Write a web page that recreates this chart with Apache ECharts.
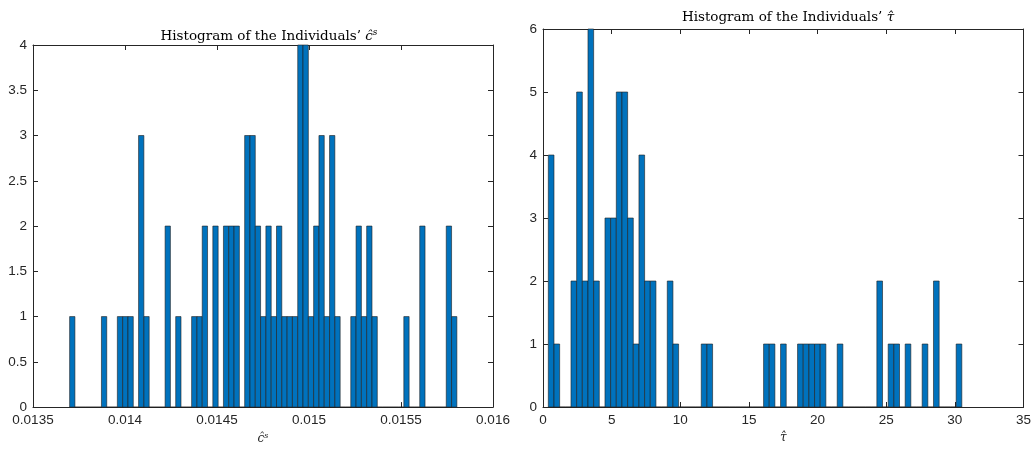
<!DOCTYPE html>
<html>
<head>
<meta charset="utf-8">
<script src="https://cdn.jsdelivr.net/npm/echarts@6/dist/echarts.min.js"></script>
<style>
  html, body { margin: 0; padding: 0; background: #fff; }
  #chart { width: 1034px; height: 450px; }
</style>
</head>
<body>
<div id="chart"></div>
<script>
  // bin layout of the two histograms (73 bins each)
  var cBinStart = 0.013699
  var cBinWidth = 0.00002883
  var tauBinStart = 0.388
  var tauBinWidth = 0.4126

  // counts per bin, left: c^s
  var cCounts = [
    1, 0, 0, 0, 0, 0, 1, 0, 0, 1,
    1, 1, 0, 3, 1, 0, 0, 0, 2, 0,
    1, 0, 0, 1, 1, 2, 0, 2, 0, 2,
    2, 2, 0, 3, 3, 2, 1, 2, 1, 2,
    1, 1, 1, 4, 4, 1, 2, 3, 1, 3,
    1, 0, 0, 1, 2, 1, 2, 1, 0, 0,
    0, 0, 0, 1, 0, 0, 2, 0, 0, 0,
    0, 2, 1
  ]
  // counts per bin, right: tau
  var tauCounts = [
    4, 1, 0, 0, 2, 5, 2, 6, 2, 0,
    3, 3, 5, 5, 3, 1, 4, 2, 2, 0,
    0, 2, 1, 0, 0, 0, 0, 1, 1, 0,
    0, 0, 0, 0, 0, 0, 0, 0, 1, 1,
    0, 1, 0, 0, 1, 1, 1, 1, 1, 0,
    0, 1, 0, 0, 0, 0, 0, 0, 2, 0,
    1, 1, 0, 1, 0, 0, 1, 0, 2, 0,
    0, 0, 1
  ]

  var cTicks = [0.0135, 0.014, 0.0145, 0.015, 0.0155, 0.016]
  var tauTicks = [0, 5, 10, 15, 20, 25, 30, 35]

  function toBins(start, width, counts) {
    var out = []
    for (var i = 0; i < counts.length; i++) {
      out.push([start + i * width, start + (i + 1) * width, counts[i]])
    }
    return out
  }

  function renderBin(params, api) {
    var p0 = api.coord([api.value(0), api.value(2)])
    var p1 = api.coord([api.value(1), 0])
    return {
      type: 'rect',
      shape: { x: p0[0], y: p0[1], width: p1[0] - p0[0], height: p1[1] - p0[1] },
      style: { fill: '#0072BD', stroke: '#1f1f1f', lineWidth: 0.6 }
    }
  }

  var axisColor = '#262626'
  var serif = 'DejaVu Serif'
  var labelFont = { color: axisColor, fontSize: 13.5, fontFamily: 'Liberation Sans' }

  function xAx(grid, ticks, pos, showLabel, name) {
    return {
      gridIndex: grid, type: 'value', position: pos,
      min: ticks[0], max: ticks[ticks.length - 1], interval: ticks[1] - ticks[0],
      axisLine: { show: true, onZero: false, lineStyle: { color: axisColor, width: 1 } },
      axisTick: { show: true, inside: true, length: 5, lineStyle: { color: axisColor } },
      splitLine: { show: false },
      axisLabel: Object.assign({ show: showLabel, margin: 6,
        formatter: function (v) { return String(parseFloat(v.toFixed(5))) } }, labelFont),
      name: name || '', nameLocation: 'middle', nameGap: 24,
      nameTextStyle: { color: axisColor, fontSize: 12, fontFamily: serif, fontStyle: 'italic',
        rich: {
          a: { fontSize: 12, fontStyle: 'italic', fontFamily: serif, color: axisColor },
          sup: { fontSize: 8, fontStyle: 'italic', fontFamily: serif, color: axisColor, padding: [0, 0, 6, 0] }
        } }
    }
  }

  function yAx(grid, max, step, pos, showLabel) {
    return {
      gridIndex: grid, type: 'value', position: pos,
      min: 0, max: max, interval: step,
      axisLine: { show: true, onZero: false, lineStyle: { color: axisColor, width: 1 } },
      axisTick: { show: true, inside: true, length: 5, lineStyle: { color: axisColor } },
      splitLine: { show: false },
      axisLabel: Object.assign({ show: showLabel, margin: 6,
        formatter: function (v) { return String(parseFloat(v.toFixed(2))) } }, labelFont)
    }
  }

  var titleStyle = {
    color: '#000', fontSize: 13.5, fontWeight: 'normal', fontFamily: serif,
    rich: {
      m: { fontSize: 13.5, fontStyle: 'italic', fontFamily: serif, color: '#000' },
      sup: { fontSize: 9, fontStyle: 'italic', fontFamily: serif, color: '#000', padding: [0, 0, 7, 0] }
    }
  }

  var chart = echarts.init(document.getElementById('chart'))
  chart.setOption({
    animation: false,
    title: [
      { text: 'Histogram of the Individuals’ {m|ĉ}{sup|s}', left: 264, top: 23, textAlign: 'center', textStyle: titleStyle },
      { text: 'Histogram of the Individuals’ {m|τ̂}', left: 783, top: 5, textAlign: 'center', textStyle: titleStyle }
    ],
    grid: [
      { left: 33, right: 541, top: 45, bottom: 42 },
      { left: 543, right: 10, top: 29, bottom: 43 }
    ],
    xAxis: [
      xAx(0, cTicks, 'bottom', true, '{a|ĉ}{sup|s}'),
      xAx(0, cTicks, 'top', false),
      xAx(1, tauTicks, 'bottom', true, '{a|τ̂}'),
      xAx(1, tauTicks, 'top', false)
    ],
    yAxis: [
      yAx(0, 4, 0.5, 'left', true),
      yAx(0, 4, 0.5, 'right', false),
      yAx(1, 6, 1, 'left', true),
      yAx(1, 6, 1, 'right', false)
    ],
    series: [
      {
        type: 'custom', xAxisIndex: 0, yAxisIndex: 0,
        renderItem: renderBin, encode: { x: [0, 1], y: 2 },
        data: toBins(cBinStart, cBinWidth, cCounts)
      },
      {
        type: 'custom', xAxisIndex: 2, yAxisIndex: 2,
        renderItem: renderBin, encode: { x: [0, 1], y: 2 },
        data: toBins(tauBinStart, tauBinWidth, tauCounts)
      }
    ]
  })
</script>
</body>
</html>
